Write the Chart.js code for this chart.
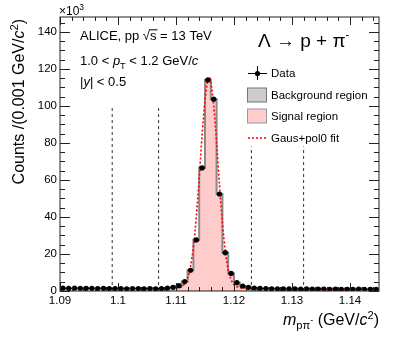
<!DOCTYPE html>
<html>
<head>
<meta charset="utf-8">
<script src="https://cdn.jsdelivr.net/npm/chart.js@4.4.1/dist/chart.umd.min.js"></script>
<style>
    html, body { margin: 0; padding: 0; background: #fff; }
    #wrap { width: 399px; height: 343px; position: relative; }
</style>
</head>
<body>
<div id="wrap"><canvas id="massChart"></canvas></div>
<script>
// invariant mass histogram, bins of 0.001 GeV/c2, counts in units of 10^3
var binStart = 1.09;
var binWidth = 0.001;
var counts = [
    1.5, 1.4, 1.5, 1.4, 1.4, 1.4, 1.3, 1.4, 1.3, 1.3,
    1.3, 1.2, 1.3, 1.3, 1.2, 1.3, 1.2, 1.3, 1.5, 2.0,
    2.9, 5.1, 11.2, 27.6, 66.5, 114, 103.6, 52.4, 20.7, 9.5,
    4.5, 2.7, 2.0, 1.6, 1.4, 1.3, 1.2, 1.2, 1.1, 1.1,
    1.1, 1.0, 1.1, 1.0, 1.0, 1.0, 0.9, 1.0, 0.9, 0.9,
    0.9, 1.0, 0.9, 0.9, 0.9
];

// Gaus+pol0 fit curve
var fitMass = [1.09, 1.108, 1.110, 1.111, 1.1115, 1.112, 1.1125, 1.113, 1.1135, 1.114,
    1.1145, 1.115, 1.1155, 1.1157, 1.116, 1.1165, 1.117, 1.1175, 1.118, 1.1185,
    1.119, 1.1195, 1.120, 1.1205, 1.121, 1.122, 1.124, 1.145];
var fitCounts = [1.5, 1.5, 1.6, 2.3, 4.0, 7.0, 13.0, 24, 40, 61,
    84, 103, 114, 115.5, 113, 100, 80, 57, 37, 21.5,
    11.5, 6.2, 3.4, 2.3, 1.8, 1.6, 1.5, 1.5];

// background | signal | background boundaries, and how high the dashed lines go
var regionEdges = [1.099, 1.107, 1.123, 1.132];
var regionLineTops = [100, 100, 78, 78];

var xTickValues = [1.09, 1.1, 1.11, 1.12, 1.13, 1.14];
var yTickValues = [0, 20, 40, 60, 80, 100, 120, 140];
var xRange = [1.09, 1.145];
var yRange = [0, 148];

var FONT = '"Liberation Sans", Arial, Helvetica, sans-serif';

function binIndex(m) {
    return Math.round((m - binStart) / binWidth);
}

// histogram outline points: lower edge of every bin, plus the last upper edge
function stepPoints(i0, i1) {
    var pts = [];
    for (var i = i0; i <= i1; i++) {
        pts.push({ x: binStart + i * binWidth, y: counts[i] });
    }
    pts.push({ x: binStart + (i1 + 1) * binWidth, y: counts[i1] });
    return pts;
}

var dataPoints = counts.map((c, i) => ({ x: binStart + (i + 0.5) * binWidth, y: c }));
var fitPoints = fitMass.map((m, i) => ({ x: m, y: fitCounts[i] }));

var datasets = [];

datasets.push({
    label: 'Data',
    data: dataPoints,
    showLine: false,
    pointRadius: 2.6,
    pointBackgroundColor: '#000',
    pointBorderColor: '#000',
    pointBorderWidth: 0,
    order: 1
});

datasets.push({
    label: 'Gaus+pol0 fit',
    data: fitPoints,
    borderColor: '#ff0000',
    borderWidth: 1.6,
    borderDash: [2, 2],
    pointRadius: 0,
    cubicInterpolationMode: 'monotone',
    fill: false,
    order: 2
});

regionEdges.forEach(function (e, k) {
    datasets.push({
        label: 'edge' + k,
        data: [{ x: e, y: 0 }, { x: e, y: regionLineTops[k] }],
        borderColor: '#333',
        borderWidth: 1,
        borderDash: [3, 3],
        pointRadius: 0,
        fill: false,
        order: 3
    });
});

datasets.push({
    label: 'outline',
    data: stepPoints(0, counts.length - 1),
    stepped: 'before',
    borderColor: '#8a8a8a',
    borderWidth: 2,
    pointRadius: 0,
    fill: false,
    order: 4
});

// signal region fill
datasets.push({
    label: 'Signal region',
    data: stepPoints(binIndex(regionEdges[1]), binIndex(regionEdges[2]) - 1),
    stepped: 'before',
    borderWidth: 0,
    pointRadius: 0,
    backgroundColor: '#ffcccc',
    fill: 'origin',
    order: 5
});

// background (side band) fills
datasets.push({
    label: 'Background region',
    data: stepPoints(binIndex(regionEdges[0]), binIndex(regionEdges[1]) - 1),
    stepped: 'before',
    borderWidth: 0,
    pointRadius: 0,
    backgroundColor: '#cccccc',
    fill: 'origin',
    order: 5
});
datasets.push({
    label: 'Background region 2',
    data: stepPoints(binIndex(regionEdges[2]), binIndex(regionEdges[3]) - 1),
    stepped: 'before',
    borderWidth: 0,
    pointRadius: 0,
    backgroundColor: '#cccccc',
    fill: 'origin',
    order: 5
});

// text with italic / sub / superscript pieces
function drawRich(ctx, x, y, parts, size) {
    var cx = x;
    parts.forEach(function (p) {
        var s = size * (p.s || 1);
        ctx.font = (p.it ? 'italic ' : '') + s + 'px ' + FONT;
        var dy = (p.dy || 0) * size;
        ctx.fillText(p.t, cx, y + dy);
        var w = ctx.measureText(p.t).width;
        if (p.over) {
            ctx.fillRect(cx - 1, y + dy - s * 0.82, w + 2, 1);
        }
        cx += w;
    });
    return cx - x;
}

function richWidth(ctx, parts, size) {
    var w = 0;
    parts.forEach(function (p) {
        ctx.font = (p.it ? 'italic ' : '') + (size * (p.s || 1)) + 'px ' + FONT;
        w += ctx.measureText(p.t).width;
    });
    return w;
}

var frameAndText = {
    id: 'frameAndText',
    afterDatasetsDraw: function (chart) {
        var ctx = chart.ctx;
        var a = chart.chartArea;
        var xs = chart.scales.x;
        var ys = chart.scales.y;
        ctx.save();

        // horizontal error bars (bin width) of the data points
        ctx.strokeStyle = '#000';
        ctx.lineWidth = 1;
        ctx.beginPath();
        dataPoints.forEach(function (p) {
            var py = ys.getPixelForValue(p.y);
            ctx.moveTo(xs.getPixelForValue(p.x - binWidth / 2), py);
            ctx.lineTo(xs.getPixelForValue(p.x + binWidth / 2), py);
        });
        ctx.stroke();

        // frame
        ctx.strokeStyle = '#222';
        ctx.lineWidth = 1;
        ctx.strokeRect(a.left, a.top, a.right - a.left, a.bottom - a.top);

        // ticks on all four sides, pointing inwards
        ctx.beginPath();
        for (var k = 0; ; k++) {
            var vx = xRange[0] + k * 0.002;
            if (vx > xRange[1] + 1e-9) break;
            var major = xTickValues.some(t => Math.abs(t - vx) < 1e-6);
            var len = major ? 8 : 4;
            var px = Math.round(xs.getPixelForValue(vx)) + 0.5;
            ctx.moveTo(px, a.bottom);
            ctx.lineTo(px, a.bottom - len);
            ctx.moveTo(px, a.top);
            ctx.lineTo(px, a.top + len);
        }
        for (var j = 0; ; j++) {
            var vy = yRange[0] + j * 5;
            if (vy > yRange[1]) break;
            var lenY = (vy % 20 === 0) ? 10 : 5;
            var py2 = Math.round(ys.getPixelForValue(vy)) + 0.5;
            ctx.moveTo(a.left, py2);
            ctx.lineTo(a.left + lenY, py2);
            ctx.moveTo(a.right, py2);
            ctx.lineTo(a.right - lenY, py2);
        }
        ctx.stroke();
        ctx.restore();
    },
    afterDraw: function (chart) {
        var ctx = chart.ctx;
        var a = chart.chartArea;
        ctx.save();
        ctx.fillStyle = '#000';
        ctx.textBaseline = 'alphabetic';
        ctx.textAlign = 'left';

        // axis multiplier
        drawRich(ctx, a.left - 1, 15, [{ t: '×10' }, { t: '3', s: 0.7, dy: -0.4 }], 12);

        // y title, rotated
        var yTitle = [{ t: 'Counts /(0.001 GeV/' }, { t: 'c', it: 1 }, { t: '2', s: 0.7, dy: -0.4 }, { t: ')' }];
        var wy = richWidth(ctx, yTitle, 16);
        ctx.save();
        ctx.translate(24, a.top + 2);
        ctx.rotate(-Math.PI / 2);
        drawRich(ctx, -wy, 0, yTitle, 16);
        ctx.restore();

        // x title, right aligned to the frame
        var xTitle = [{ t: 'm', it: 1 }, { t: 'pπ', s: 0.7, dy: 0.25 }, { t: '-', s: 0.55, dy: -0.1 },
            { t: ' (GeV/' }, { t: 'c', it: 1 }, { t: '2', s: 0.7, dy: -0.4 }, { t: ')' }];
        var wx = richWidth(ctx, xTitle, 16);
        drawRich(ctx, a.right - wx, 325, xTitle, 16);

        // labels
        var tx = 80;
        drawRich(ctx, tx, 40, [{ t: 'ALICE, pp ' }, { t: '√' }, { t: 's', over: 1 }, { t: ' = 13 TeV' }], 13);
        drawRich(ctx, tx, 65, [{ t: '1.0 < ' }, { t: 'p', it: 1 }, { t: 'T', s: 0.7, dy: 0.3 },
            { t: ' < 1.2 GeV/' }, { t: 'c', it: 1 }], 13);
        drawRich(ctx, tx, 86, [{ t: '|' }, { t: 'y', it: 1 }, { t: '| < 0.5' }], 13);
        drawRich(ctx, 258, 47, [{ t: 'Λ → p + π' }, { t: '-', s: 0.6, dy: -0.45 }], 19);

        // legend
        var lx = 248, lw = 19, tX = 271, lf = 11.5;
        var rows = [73, 95, 116, 138];
        ctx.strokeStyle = '#000';
        ctx.lineWidth = 1;
        ctx.beginPath();
        ctx.moveTo(lx, rows[0] + 0.5);
        ctx.lineTo(lx + lw, rows[0] + 0.5);
        ctx.moveTo(lx + lw / 2, rows[0] - 7);
        ctx.lineTo(lx + lw / 2, rows[0] + 7);
        ctx.stroke();
        ctx.beginPath();
        ctx.arc(lx + lw / 2, rows[0] + 0.5, 2.6, 0, 2 * Math.PI);
        ctx.fill();

        ctx.fillStyle = '#cccccc';
        ctx.fillRect(lx - 0.5, rows[1] - 7, lw, 14);
        ctx.strokeStyle = '#777';
        ctx.strokeRect(lx - 0.5, rows[1] - 7, lw, 14);
        ctx.fillStyle = '#ffcccc';
        ctx.fillRect(lx - 0.5, rows[2] - 7, lw, 14);
        ctx.strokeStyle = '#999';
        ctx.strokeRect(lx - 0.5, rows[2] - 7, lw, 14);

        ctx.strokeStyle = '#ff0000';
        ctx.lineWidth = 1.5;
        ctx.setLineDash([2, 2]);
        ctx.beginPath();
        ctx.moveTo(lx, rows[3]);
        ctx.lineTo(lx + lw, rows[3]);
        ctx.stroke();
        ctx.setLineDash([]);

        ctx.fillStyle = '#000';
        var names = ['Data', 'Background region', 'Signal region', 'Gaus+pol0 fit'];
        names.forEach(function (n, i) {
            drawRich(ctx, tX, rows[i] + 4, [{ t: n }], lf);
        });
        ctx.restore();
    }
};

new Chart(document.getElementById('massChart').getContext('2d'), {
    type: 'line',
    data: { datasets: datasets },
    options: {
        responsive: true,
        maintainAspectRatio: false,
        animation: false,
        layout: { padding: { top: 17, right: 20, left: 0, bottom: 0 } },
        plugins: {
            legend: { display: false },
            tooltip: { enabled: false }
        },
        scales: {
            x: {
                type: 'linear',
                min: xRange[0],
                max: xRange[1],
                grid: { display: false, drawTicks: false },
                border: { display: false },
                afterBuildTicks: function (axis) {
                    axis.ticks = xTickValues.map(v => ({ value: v }));
                },
                ticks: {
                    callback: v => String(+Number(v).toFixed(3)),
                    color: '#000',
                    font: { family: FONT, size: 11.5 },
                    padding: 3,
                    maxRotation: 0,
                    autoSkip: false
                },
                afterFit: function (axis) { axis.height = 52; }
            },
            y: {
                type: 'linear',
                min: yRange[0],
                max: yRange[1],
                grid: { display: false, drawTicks: false },
                border: { display: false },
                afterBuildTicks: function (axis) {
                    axis.ticks = yTickValues.map(v => ({ value: v }));
                },
                ticks: {
                    color: '#000',
                    font: { family: FONT, size: 11.5 },
                    padding: 3,
                    autoSkip: false
                },
                afterFit: function (axis) { axis.width = 60; }
            }
        }
    },
    plugins: [frameAndText]
});
</script>
</body>
</html>
